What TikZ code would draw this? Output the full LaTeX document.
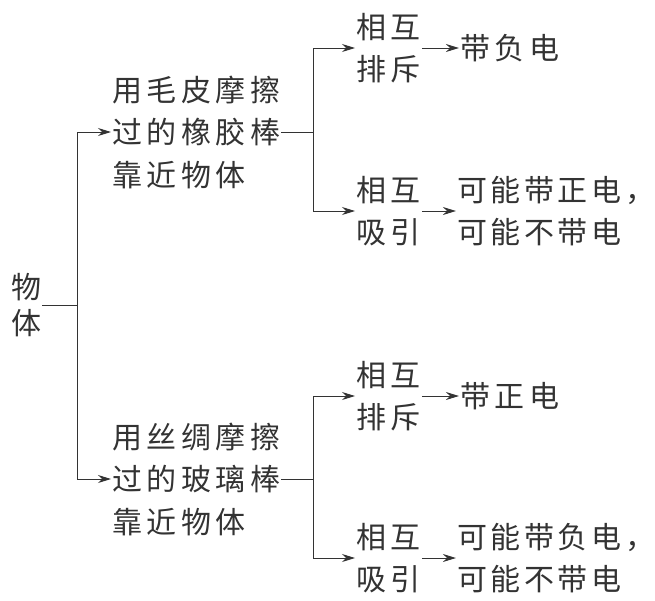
\documentclass[tikz,border=0pt]{standalone}
\usepackage{fontspec}
\usetikzlibrary{positioning, arrows.meta, calc}
\newfontfamily\cjk[LetterSpace=15]{Noto Sans CJK SC}
\newfontfamily\cjkhalf[LetterSpace=12, CharacterWidth=AlternateHalf]{Noto Sans CJK SC}
\definecolor{ink}{HTML}{333333}
\tikzset{
    item/.style={
        font=\cjk\fontsize{30pt}{42.5pt}\selectfont,
        text=ink, align=left, inner sep=1pt, anchor=west,
    },
    rootitem/.style={
        item, font=\cjk\fontsize{30pt}{36pt}\selectfont,
    },
    maybeitem/.style={
        item, font=\cjkhalf\fontsize{30pt}{42.5pt}\selectfont,
    },
    link/.style={
        line width=0.9pt, color=ink,
    },
    flow/.style={
        link, -{Stealth[length=13pt, width=8pt]},
    },
}

\begin{document}
\begin{tikzpicture}[x=1pt, y=-1pt]
\useasboundingbox (0,0) rectangle (655,600);

% =============================================
% Root and the two rods
% =============================================
\node[rootitem] (root) at (10,305) {物\\体};
\coordinate (j0) at (77,305);

\node[item] (rubber) at (111,132) {用毛皮摩擦\\过的橡胶棒\\靠近物体};
\node[item] (glass) at (111,479) {用丝绸摩擦\\过的玻璃棒\\靠近物体};

\coordinate[right=32pt of rubber.east] (j1);
\coordinate[right=32pt of glass.east] (j2);

% =============================================
% Rubber rod: outcomes
% =============================================
\node[item] (repel1) at (355,48) {相互\\排斥};
\node[item] (attract1) at (355,211) {相互\\吸引};
\node[item, right=37pt of repel1] (neg) {带负电};
\node[maybeitem, right=34pt of attract1] (maybe1) {可能带正电，\\可能不带电};

% =============================================
% Glass rod: outcomes
% =============================================
\node[item] (repel2) at (355,396) {相互\\排斥};
\node[item] (attract2) at (355,558) {相互\\吸引};
\node[item, right=37pt of repel2] (pos) {带正电};
\node[maybeitem, right=34pt of attract2] (maybe2) {可能带负电，\\可能不带电};

% =============================================
% Connectors
% =============================================
\draw[link] (root) -- (j0);
\draw[flow] (j0) |- (rubber);
\draw[flow] (j0) |- (glass);

\draw[link] (rubber) -- (j1);
\draw[flow] (j1) |- (repel1);
\draw[flow] (j1) |- (attract1);
\draw[flow] (repel1) -- (neg);
\draw[flow] (attract1) -- (maybe1);

\draw[link] (glass) -- (j2);
\draw[flow] (j2) |- (repel2);
\draw[flow] (j2) |- (attract2);
\draw[flow] (repel2) -- (pos);
\draw[flow] (attract2) -- (maybe2);

\end{tikzpicture}
\end{document}
